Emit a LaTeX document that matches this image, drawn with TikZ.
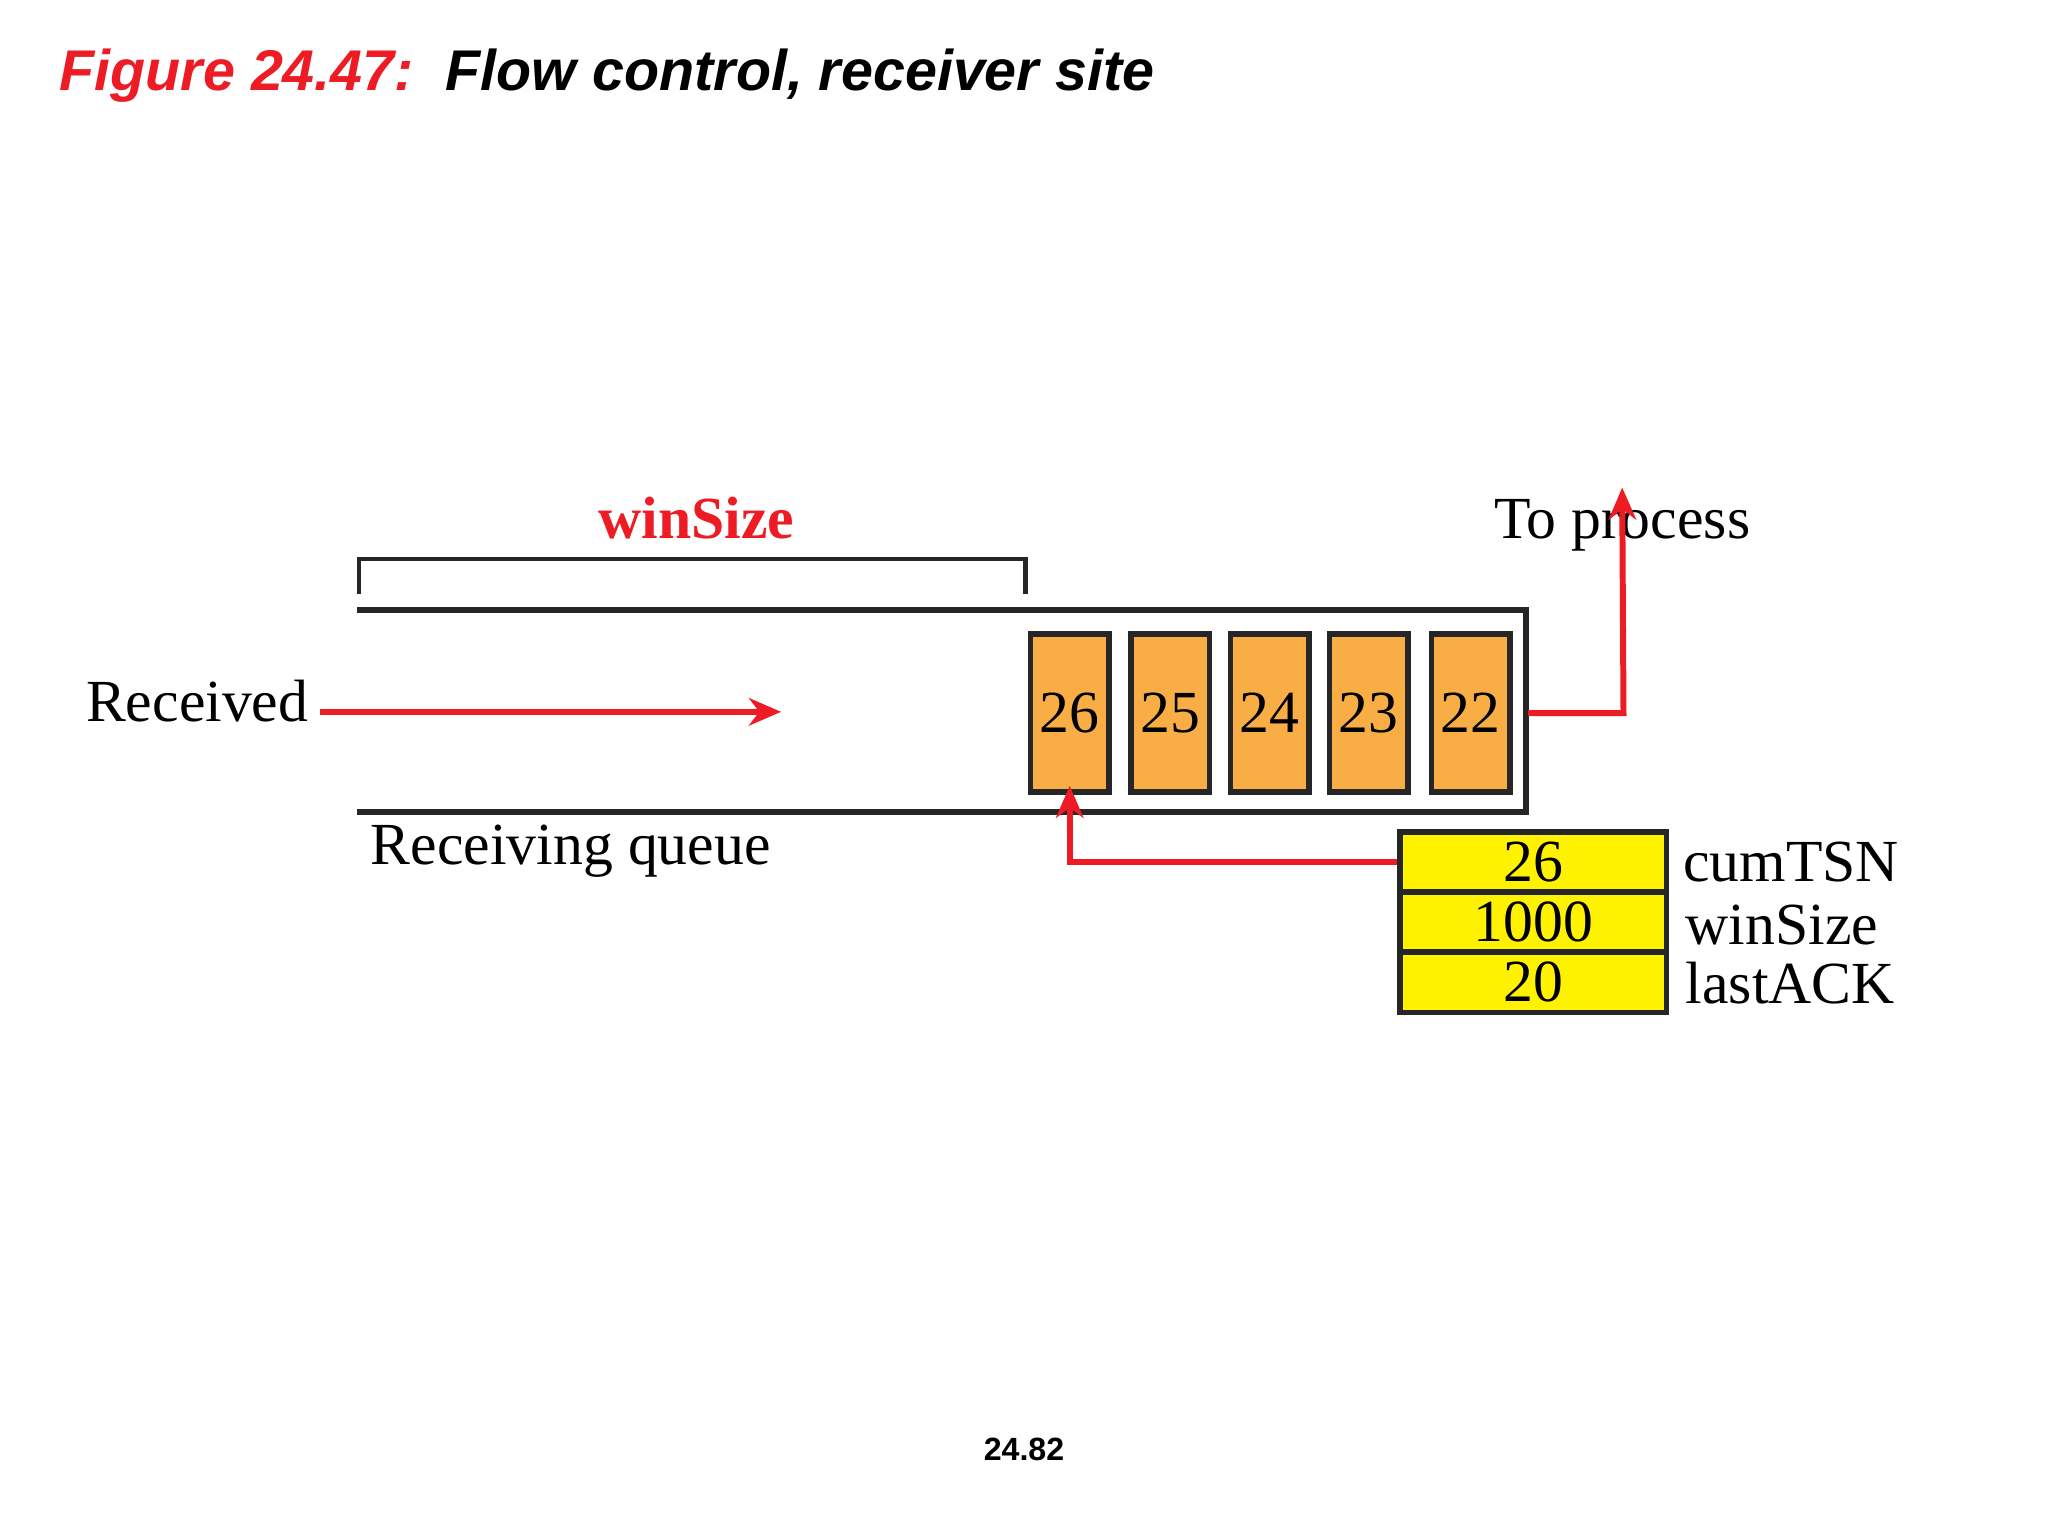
\documentclass[tikz,border=0pt]{standalone}
\usepackage{fontspec}
\setmainfont{Liberation Serif}
\newfontfamily\sans{Liberation Sans}
\usetikzlibrary{arrows.meta}
\definecolor{fred}{RGB}{237,28,36}
\definecolor{forange}{RGB}{249,174,69}
\definecolor{fyellow}{RGB}{255,242,0}
\begin{document}
\begin{tikzpicture}[x=0.01cm,y=-0.01cm,
  pkt/.style={draw=black!85,line width=1.2pt,fill=forange,minimum width=0.6cm,minimum height=1.21cm,inner sep=0,font=\fontsize{13}{13}\selectfont},
  cell/.style={draw=black!85,line width=1.2pt,fill=fyellow,minimum width=2.04cm,minimum height=0.46cm,inner sep=0,font=\fontsize{13}{13}\selectfont},
  lbl/.style={font=\fontsize{13}{13}\selectfont,inner sep=0},
  redarr/.style={draw=fred,line width=1.3pt,-{Stealth[length=7pt,width=6pt]}}]
\useasboundingbox (0,0) rectangle (1568,1176);
% title
\node[anchor=west,inner sep=0,font=\sans\bfseries\itshape\fontsize{12.5}{14}\selectfont] (title) at (45,58)
  {\textcolor{fred}{Figure 24.47:}\ \ Flow control, receiver site};
% queue
\draw[line width=1.3pt,black!85] (273,467) -- (1168,467) -- (1168,622) -- (273,622);
\draw[line width=1pt,black!85] (275,455) -- (275,428) -- (785,428) -- (785,455);
\node[lbl,text=fred,font=\bfseries\fontsize{13}{13}\selectfont] (win) at (533,397) {winSize};
\foreach \n/\x in {26/819,25/896,24/972,23/1048,22/1126}
  \node[pkt] (p\n) at (\x,546) {\n};
\node[lbl] (recv) at (151,537) {Received};
\coordinate (rend) at (598,545);
\draw[redarr] (recv.east |- rend) ++(8,0) -- (rend);
\node[lbl] (qlbl) at (437,652) {Receiving queue};
\node[lbl] (proc) at (1242,402) {To process};
\draw[redarr] (1170,546) -- (1243,546) -- ([yshift=14]proc.south);
% table
\node[cell] (c1) at (1174,660) {26};
\node[cell] (c2) at (1174,706) {1000};
\node[cell] (c3) at (1174,752) {20};
\node[lbl,anchor=west] (t1) at (1288,660) {cumTSN};
\node[lbl,anchor=west] (t2) at (1290,708) {winSize};
\node[lbl,anchor=west] (t3) at (1290,753) {lastACK};
\draw[redarr] (c1.west) -| ([yshift=2]p26.south);
\node[inner sep=0,font=\sans\bfseries\fontsize{7}{8}\selectfont] (pg) at (784,1110) {24.82};
\end{tikzpicture}
\end{document}
